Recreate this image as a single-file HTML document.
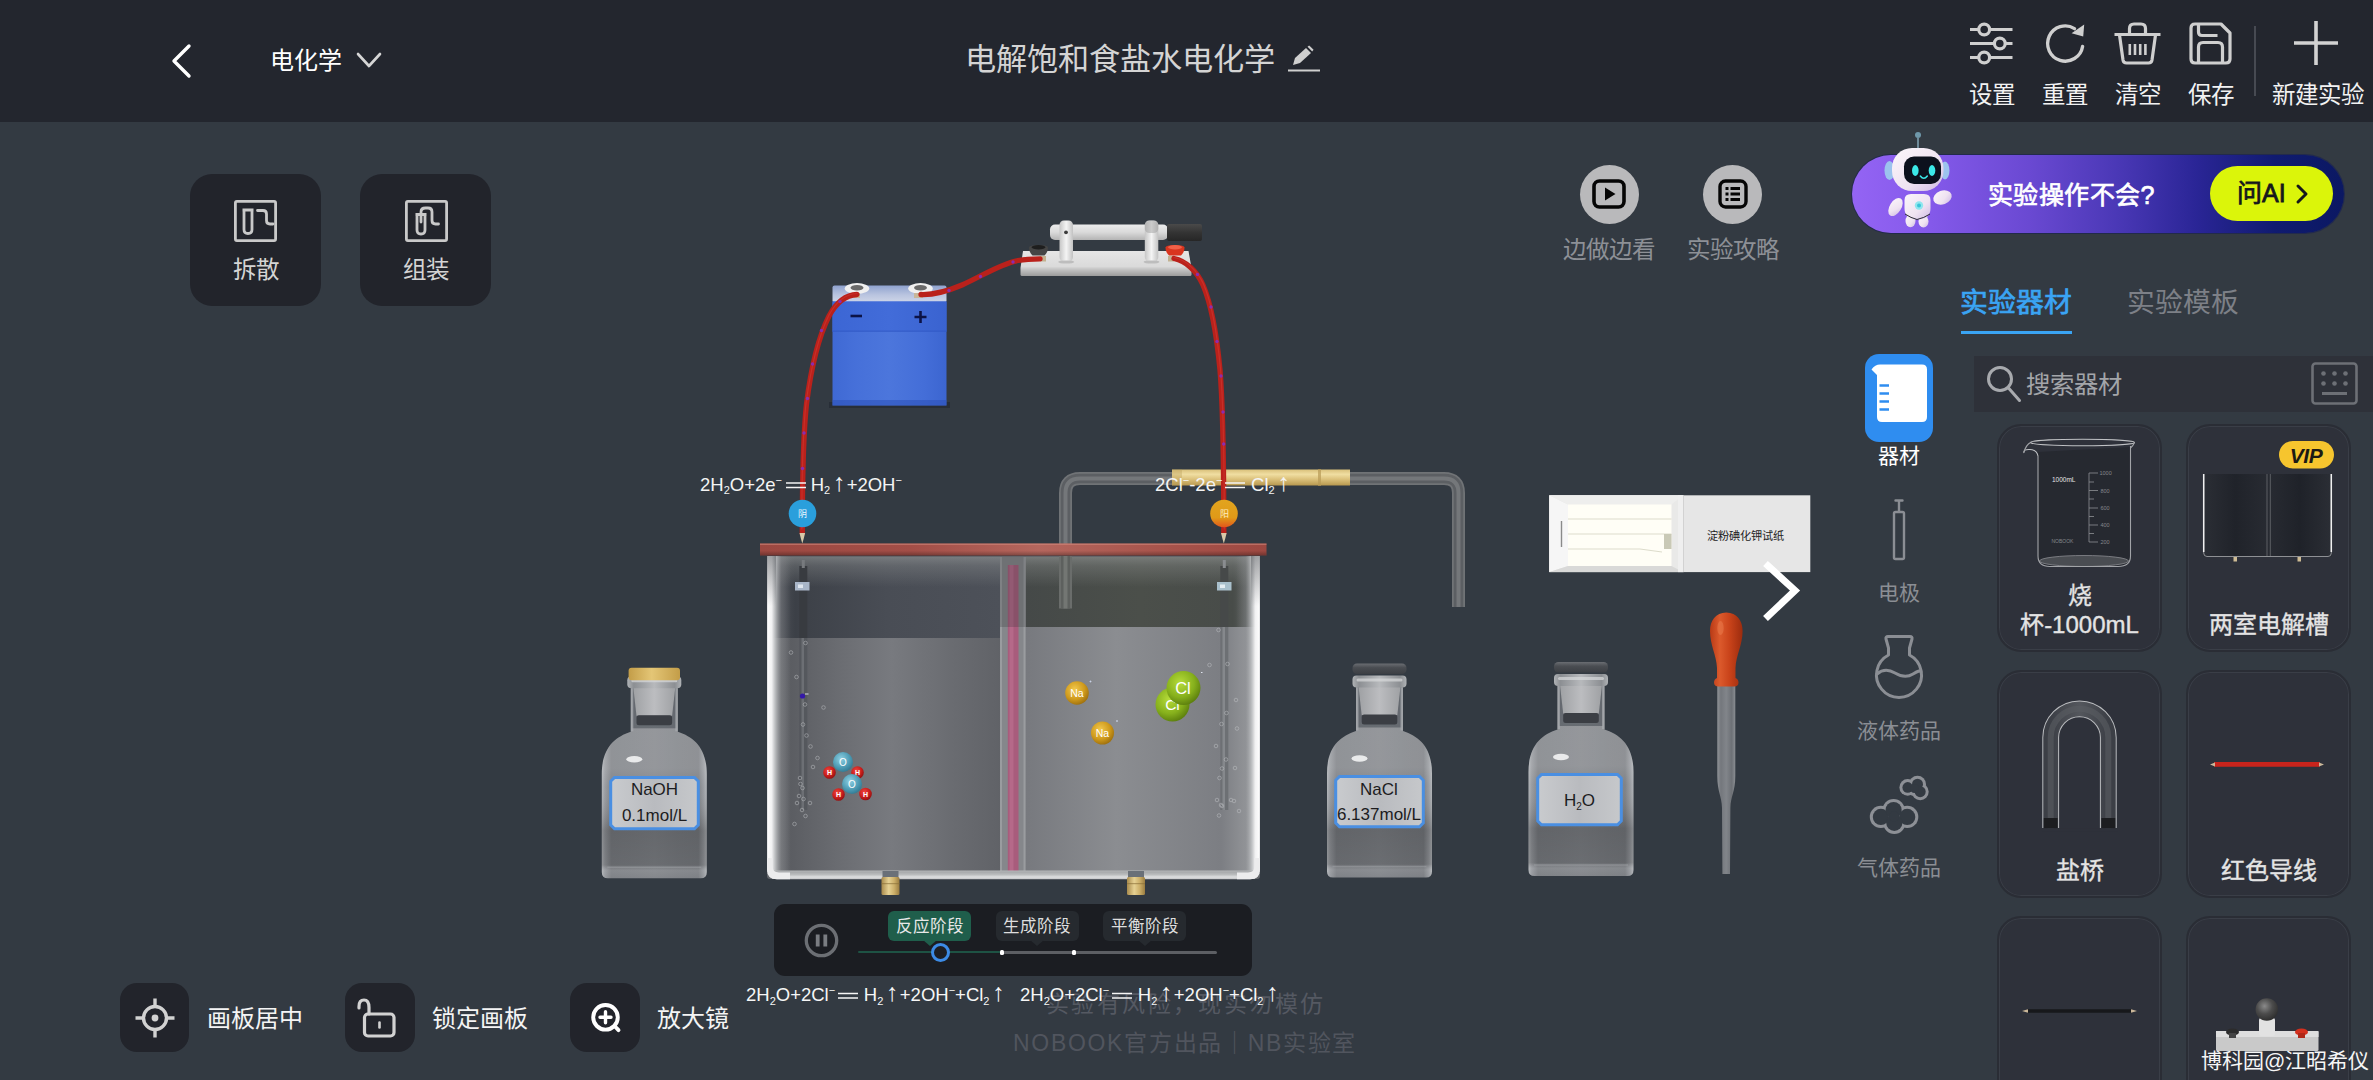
<!DOCTYPE html>
<html lang="zh-CN">
<head>
<meta charset="utf-8">
<title>电解饱和食盐水电化学</title>
<style>
*{box-sizing:border-box;margin:0;padding:0}
html,body{width:2373px;height:1080px;overflow:hidden;background:#333a42}
body{position:relative;font-family:"Liberation Sans",sans-serif;color:#fff}
.abs{position:absolute}
.hdr{position:absolute;left:0;top:0;width:2373px;height:122px;background:#23262e}
.t{position:absolute;white-space:nowrap;line-height:1}
.tb-l{position:absolute;top:83.500px;font-size:23.5px;color:#f2f2f2;white-space:nowrap;line-height:1;transform:translateX(-50%)}
.sq{position:absolute;background:#22242b;border-radius:22px}
.card{position:absolute;width:165px;height:228px;border-radius:24px;background:#2e313a;border:2px solid #2a2d35;box-shadow:0 0 0 1px #3a3e47 inset}
.card .lb{position:absolute;left:0;width:100%;text-align:center;font-size:24px;-webkit-text-stroke:.35px #e4e4e4;color:#e4e4e4;line-height:29px;white-space:nowrap}
.side-l{position:absolute;font-size:21px;color:#8b8e94;white-space:nowrap;line-height:1;transform:translateX(-50%)}
svg{position:absolute;overflow:visible}
sub,sup{font-size:60%;line-height:0}
</style>
</head>
<body>

<!-- ===== HEADER ===== -->
<div class="hdr"></div>
<svg style="left:170px;top:43px" width="24" height="36" viewBox="0 0 24 36"><path d="M19 3 L4 18 L19 33" fill="none" stroke="#fff" stroke-width="3.4" stroke-linecap="round" stroke-linejoin="round"/></svg>
<div class="t" style="left:270px;top:49px;font-size:24px;color:#fff">电化学</div>
<svg style="left:356px;top:52px" width="26" height="16" viewBox="0 0 26 16"><path d="M2 2 L13 14 L24 2" fill="none" stroke="#d6d6d6" stroke-width="2.6" stroke-linecap="round" stroke-linejoin="round"/></svg>
<div class="t" style="left:964.500px;top:44px;font-size:31.200px;color:#d4d4d4">电解饱和食盐水电化学</div>
<svg style="left:1287px;top:45px" width="34" height="28" viewBox="0 0 34 28"><path d="M1 25.5 H33" stroke="#cfcfcf" stroke-width="2"/><path d="M6 20 L8 13 L19 3 L24 8 L13 18 Z" fill="#cfcfcf"/><path d="M20.5 1.8 L22.2 0.4 L26.6 4.8 L25.2 6.4 Z" fill="#cfcfcf"/></svg>
<!-- toolbar placeholder -->
<!-- toolbar -->
<svg style="left:1970px;top:22px" width="43" height="43" viewBox="0 0 43 43" fill="none" stroke="#cfcfcf" stroke-width="3.2">
<path d="M0 7.5H8.5M20 7.5H42.5M0 21.5H24M35.5 21.5H42.5M0 35.5H8.5M20 35.5H42.5"/>
<circle cx="14.2" cy="7.5" r="5.4"/><circle cx="29.8" cy="21.5" r="5.4"/><circle cx="14.2" cy="35.5" r="5.4"/></svg>
<div class="tb-l" style="left:1991.5px">设置</div>
<svg style="left:2044px;top:22px" width="44" height="44" viewBox="0 0 44 44" fill="none" stroke="#cfcfcf" stroke-width="3.4">
<path d="M38.6 24.5 A17.6 17.6 0 1 1 30.5 6.6" stroke-linecap="round"/><path d="M40.2 2.6 L39.2 14.6 L27.6 11.2 Z" fill="#cfcfcf" stroke="none"/></svg>
<div class="tb-l" style="left:2064.5px">重置</div>
<svg style="left:2114px;top:22px" width="47" height="43" viewBox="0 0 47 43" fill="none" stroke="#cfcfcf" stroke-width="3.2" stroke-linejoin="round">
<path d="M0.5 12.5H46.5"/><path d="M15.5 12 V6.5 Q15.5 2 20 2 H27 Q31.5 2 31.5 6.5 V12"/>
<path d="M5.5 13 L9 38 Q9.5 41 12.5 41 H34.5 Q37.500 41 38 38 L41.5 13"/>
<path d="M15.8 22V33M21 22V33M26.200 22V33M31.400 22V33" stroke-width="2.6"/></svg>
<div class="tb-l" style="left:2137.5px">清空</div>
<svg style="left:2189px;top:22px" width="43" height="43" viewBox="0 0 43 43" fill="none" stroke="#cfcfcf" stroke-width="3.2" stroke-linejoin="round">
<path d="M6 2 H32 L41 11 V37 Q41 41 37 41 H6 Q2 41 2 37 V6 Q2 2 6 2 Z"/>
<path d="M9.500 2.500 V10 Q9.500 13.500 13 13.500 H28.500"/>
<path d="M9.500 40.500 V25 Q9.500 20.500 14 20.500 H29 Q33.500 20.500 33.500 25 V40.500"/></svg>
<div class="tb-l" style="left:2210.500px">保存</div>
<div class="abs" style="left:2254px;top:26px;width:2px;height:70px;background:#474a52"></div>
<svg style="left:2294px;top:21px" width="44" height="44" viewBox="0 0 44 44" stroke="#d2d2d2" stroke-width="3.600"><path d="M0 22H44M22 0V44"/></svg>
<div class="tb-l" style="left:2317.500px">新建实验</div>
<!-- ===== LEFT BUTTONS ===== -->
<div class="sq" style="left:190px;top:174px;width:131px;height:132px"></div>
<svg style="left:234px;top:200px" width="43" height="42" viewBox="0 0 43 42" fill="none" stroke="#c9c9c9" stroke-width="2.800" stroke-linejoin="round">
<rect x="1.400" y="1.400" width="40.200" height="39.200" rx="1.500"/>
<path d="M8.500 10 H19.500 M10 10 V29.500 Q10 33.500 14 33.500 Q18 33.500 18 29.500 V10"/>
<path d="M23.500 10.500 H29 Q32.500 10.500 32.500 14 V20.500 Q32.500 24 36 24 H39" stroke-linecap="round"/></svg>
<div class="t" style="left:255.500px;top:259px;font-size:23.500px;color:#d4d4d4;transform:translateX(-50%)">拆散</div>
<div class="sq" style="left:360px;top:174px;width:131px;height:132px"></div>
<svg style="left:405px;top:200px" width="43" height="42" viewBox="0 0 43 42" fill="none" stroke="#c9c9c9" stroke-width="2.800" stroke-linejoin="round">
<rect x="1.400" y="1.400" width="40.200" height="39.200" rx="1.500"/>
<path d="M10.500 14.500 H21.500 M12 14.500 V30 Q12 34 16 34 Q20 34 20 30 V14.500"/>
<path d="M16 22 V12 Q16 8 20.500 8 H23 Q27 8 27 12 V20.500 Q27 24 30.500 24 H33.500" stroke-linecap="round"/></svg>
<div class="t" style="left:425.500px;top:259px;font-size:23.500px;color:#d4d4d4;transform:translateX(-50%)">组装</div>
<!-- ===== SCENE ===== -->
<!-- ===== SCENE ===== -->
<svg style="left:0;top:0" width="2373" height="1080" viewBox="0 0 2373 1080" font-family="Liberation Sans, sans-serif">
<defs>
<linearGradient id="gBatTop" x1="0" y1="0" x2="0" y2="1"><stop offset="0" stop-color="#8fa2cf"/><stop offset=".55" stop-color="#b9c4df"/><stop offset="1" stop-color="#cfd6e8"/></linearGradient>
<linearGradient id="gBatF" x1="0" y1="0" x2="1" y2="0"><stop offset="0" stop-color="#3f69d4"/><stop offset=".2" stop-color="#4670d9"/><stop offset=".5" stop-color="#4c76dc"/><stop offset=".8" stop-color="#446ed8"/><stop offset="1" stop-color="#3c65d0"/></linearGradient>
<linearGradient id="gBatBand" x1="0" y1="0" x2="1" y2="0"><stop offset="0" stop-color="#3c66d4"/><stop offset=".5" stop-color="#426cd9"/><stop offset="1" stop-color="#3a63d0"/></linearGradient>
<linearGradient id="gSwBase" x1="0" y1="0" x2="0" y2="1"><stop offset="0" stop-color="#e6e6e6"/><stop offset=".62" stop-color="#dadada"/><stop offset=".72" stop-color="#c6c6c6"/><stop offset="1" stop-color="#9c9c9c"/></linearGradient>
<linearGradient id="gSwBar" x1="0" y1="0" x2="0" y2="1"><stop offset="0" stop-color="#ececec"/><stop offset=".5" stop-color="#dadada"/><stop offset="1" stop-color="#b4b4b4"/></linearGradient>
<linearGradient id="gSwPost" x1="0" y1="0" x2="1" y2="0"><stop offset="0" stop-color="#c6c6c6"/><stop offset=".5" stop-color="#f4f4f4"/><stop offset="1" stop-color="#c2c2c2"/></linearGradient>
<linearGradient id="gHandle" x1="0" y1="0" x2="0" y2="1"><stop offset="0" stop-color="#4a4a4a"/><stop offset=".5" stop-color="#343434"/><stop offset="1" stop-color="#262626"/></linearGradient>
<linearGradient id="gLid" x1="0" y1="0" x2="1" y2="0"><stop offset="0" stop-color="#9c4841"/><stop offset=".3" stop-color="#a34e47"/><stop offset=".55" stop-color="#b4665d"/><stop offset=".8" stop-color="#a7534b"/><stop offset="1" stop-color="#9d4841"/></linearGradient>
<linearGradient id="gLidV" x1="0" y1="0" x2="0" y2="1"><stop offset="0" stop-color="#000" stop-opacity="0"/><stop offset=".6" stop-color="#000" stop-opacity="0"/><stop offset="1" stop-color="#000" stop-opacity=".28"/></linearGradient>
<linearGradient id="gAirL" x1="0" y1="0" x2="1" y2="0"><stop offset="0" stop-color="#55585e"/><stop offset=".1" stop-color="#3c4047"/><stop offset=".5" stop-color="#494d55"/><stop offset="1" stop-color="#4d5159"/></linearGradient>
<linearGradient id="gLiqL" x1="0" y1="0" x2="1" y2="0"><stop offset="0" stop-color="#77797d"/><stop offset=".08" stop-color="#5b5d62"/><stop offset=".3" stop-color="#6b6d72"/><stop offset=".52" stop-color="#787a7f"/><stop offset=".8" stop-color="#696b70"/><stop offset="1" stop-color="#606267"/></linearGradient>
<linearGradient id="gAirR" x1="0" y1="0" x2="1" y2="0"><stop offset="0" stop-color="#454948"/><stop offset=".5" stop-color="#4b4f4a"/><stop offset=".9" stop-color="#484c49"/><stop offset="1" stop-color="#666968"/></linearGradient>
<linearGradient id="gLiqR" x1="0" y1="0" x2="1" y2="0"><stop offset="0" stop-color="#77797e"/><stop offset=".4" stop-color="#8b8d91"/><stop offset=".85" stop-color="#7c7e83"/><stop offset="1" stop-color="#9a9c9f"/></linearGradient>
<linearGradient id="gWallL" x1="0" y1="0" x2="1" y2="0"><stop offset="0" stop-color="#dcdddf"/><stop offset=".06" stop-color="#fbfbfb"/><stop offset=".2" stop-color="#f1f1f2"/><stop offset=".34" stop-color="#c4c6c8" stop-opacity=".9"/><stop offset=".6" stop-color="#909296" stop-opacity=".35"/><stop offset="1" stop-color="#8a8c90" stop-opacity="0"/></linearGradient>
<linearGradient id="gWallR" x1="1" y1="0" x2="0" y2="0"><stop offset="0" stop-color="#dcdddf"/><stop offset=".06" stop-color="#fbfbfb"/><stop offset=".2" stop-color="#f1f1f2"/><stop offset=".34" stop-color="#c4c6c8" stop-opacity=".9"/><stop offset=".6" stop-color="#909296" stop-opacity=".35"/><stop offset="1" stop-color="#8a8c90" stop-opacity="0"/></linearGradient>
<linearGradient id="gBot" x1="0" y1="0" x2="0" y2="1"><stop offset="0" stop-color="#c4c6c7"/><stop offset=".3" stop-color="#a8aaac"/><stop offset=".55" stop-color="#bbbdbe"/><stop offset=".78" stop-color="#dedfe0"/><stop offset="1" stop-color="#c2c3c5"/></linearGradient>
<linearGradient id="gBrass" x1="0" y1="0" x2="0" y2="1"><stop offset="0" stop-color="#d9c07a"/><stop offset=".3" stop-color="#f0dea2"/><stop offset=".6" stop-color="#dcc27c"/><stop offset="1" stop-color="#b8984f"/></linearGradient>
<linearGradient id="gBrassH" x1="0" y1="0" x2="1" y2="0"><stop offset="0" stop-color="#a88a4c"/><stop offset=".4" stop-color="#e6d193"/><stop offset=".7" stop-color="#cdb06a"/><stop offset="1" stop-color="#9a7c40"/></linearGradient>
<linearGradient id="gPipeH" x1="0" y1="0" x2="0" y2="1"><stop offset="0" stop-color="#6c6e70"/><stop offset=".3" stop-color="#8f9193"/><stop offset=".6" stop-color="#737577"/><stop offset="1" stop-color="#8a8c8e"/></linearGradient>
<radialGradient id="gO" cx=".4" cy=".35" r=".7"><stop offset="0" stop-color="#8fd0e2"/><stop offset=".6" stop-color="#4f9db6"/><stop offset="1" stop-color="#2f7790"/></radialGradient>
<radialGradient id="gH" cx=".4" cy=".35" r=".7"><stop offset="0" stop-color="#f0453e"/><stop offset=".6" stop-color="#c81d1b"/><stop offset="1" stop-color="#8c0f10"/></radialGradient>
<radialGradient id="gNa" cx=".4" cy=".35" r=".7"><stop offset="0" stop-color="#f2c94e"/><stop offset=".6" stop-color="#cf9a1c"/><stop offset="1" stop-color="#9a6c0c"/></radialGradient>
<radialGradient id="gCl" cx=".4" cy=".35" r=".7"><stop offset="0" stop-color="#b6dc3a"/><stop offset=".6" stop-color="#86b01c"/><stop offset="1" stop-color="#587a0c"/></radialGradient>
<linearGradient id="gAn" x1="0" y1="0" x2="0" y2="1"><stop offset="0" stop-color="#e2a41e"/><stop offset=".65" stop-color="#e09a18"/><stop offset="1" stop-color="#e2561c"/></linearGradient>
<linearGradient id="gTopSh" x1="0" y1="0" x2="0" y2="1"><stop offset="0" stop-color="#4a4d52" stop-opacity=".5"/><stop offset="1" stop-color="#4a4d52" stop-opacity="0"/></linearGradient>
<linearGradient id="gUnder" x1="0" y1="0" x2="0" y2="1"><stop offset="0" stop-color="#a4a7a6" stop-opacity=".5"/><stop offset=".3" stop-color="#9a9d9c" stop-opacity=".3"/><stop offset="1" stop-color="#9a9d9c" stop-opacity="0"/></linearGradient>
</defs>

<!-- grey gas pipe (behind lid) -->
<g fill="none">
<path d="M1065.500 548 V493 Q1065.500 478.500 1080 478.500 H1444 Q1458.500 478.500 1458.500 493 V607" stroke="#707376" stroke-width="13"/>
<path d="M1065.500 548 V493 Q1065.500 478.500 1080 478.500 H1444 Q1458.500 478.500 1458.500 493 V607" stroke="#5c5f63" stroke-width="9.500"/>
<path d="M1065.500 548 V493 Q1065.500 478.500 1080 478.500 H1444 Q1458.500 478.500 1458.500 493 V607" stroke="#74777a" stroke-width="4"/>
</g>
<!-- brass tube -->
<rect x="1172" y="469.500" width="178" height="16" fill="url(#gBrass)"/>
<rect x="1318" y="469" width="3" height="17" fill="#b89a55" opacity=".7"/>
<rect x="1172" y="469.500" width="10" height="16" fill="#b89a55" opacity=".35"/>

<!-- battery -->
<rect x="829" y="402" width="121" height="6" fill="#1f2430" opacity=".55"/>
<rect x="832.500" y="285.500" width="114" height="17" rx="2" fill="url(#gBatTop)"/>
<rect x="832.500" y="301.500" width="114" height="104" fill="url(#gBatF)"/>
<rect x="832.500" y="301.500" width="114" height="30" fill="url(#gBatBand)"/>
<rect x="832.500" y="330.500" width="114" height="1.500" fill="#3058c4" opacity=".6"/>
<rect x="832.500" y="400" width="114" height="5.500" fill="#2c50b8" opacity=".55"/>
<g>
<ellipse cx="857" cy="288.500" rx="12.300" ry="5.400" fill="#f0f0f0"/><ellipse cx="857" cy="287.800" rx="6.500" ry="2.800" fill="#6a6a6a"/>
<ellipse cx="920.500" cy="288.500" rx="12.300" ry="5.400" fill="#f0f0f0"/><ellipse cx="920.500" cy="287.800" rx="6.500" ry="2.800" fill="#6a6a6a"/>
<rect x="851" y="293" width="9" height="5" fill="#c8b79a"/><rect x="914" y="293" width="9" height="5" fill="#c8b79a"/>
</g>
<path d="M850.500 316H862" stroke="#0c1346" stroke-width="2.600"/>
<path d="M914.500 317H926.500M920.500 311V323" stroke="#0c1346" stroke-width="2.600"/>

<!-- switch -->
<path d="M1023 251 H1188.500 L1191.500 268 V274.500 Q1191.500 276 1190 276 H1022 Q1020.500 276 1020.500 274.500 V268 Z" fill="url(#gSwBase)"/>
<rect x="1050" y="224.500" width="118" height="15.500" rx="5" fill="url(#gSwBar)"/>
<rect x="1059.500" y="220.500" width="13.500" height="41" rx="4.500" fill="url(#gSwPost)"/>
<rect x="1144.800" y="220.500" width="13.500" height="41" rx="4.500" fill="url(#gSwPost)"/>
<rect x="1144.800" y="221" width="13.500" height="12" rx="4.500" fill="#9a9a9a" opacity=".45"/>
<ellipse cx="1066.200" cy="262" rx="8" ry="1.600" fill="#bdbdbd"/><ellipse cx="1151.500" cy="262" rx="8" ry="1.600" fill="#bdbdbd"/>
<circle cx="1066" cy="232.300" r="1.900" fill="#3c3c3c"/>
<rect x="1167" y="224" width="35" height="17" rx="2" fill="url(#gHandle)"/>
<path d="M1029 247.500 Q1029 245 1038.500 245 Q1048 245 1048 247.500 Q1048 252 1044.500 255.500 H1032.500 Q1029 252 1029 247.500 Z" fill="#454545"/>
<ellipse cx="1038.500" cy="247.300" rx="7" ry="2.200" fill="#1e1e1e"/>
<rect x="1040" y="256" width="6" height="5.500" fill="#c2b190"/>
<path d="M1165.500 247.500 Q1165.500 245 1175 245 Q1184.500 245 1184.500 247.500 Q1184.500 252 1181 255.500 H1169 Q1165.500 252 1165.500 247.500 Z" fill="#d9351f"/>
<ellipse cx="1175" cy="247.300" rx="7" ry="2.200" fill="#f06048"/>
<rect x="1168" y="256" width="6" height="5.500" fill="#c2b190"/>

<!-- wires -->
<g fill="none" stroke-linecap="round">
<path id="w1" d="M857 294.500 C846 295 836 303 829 316 C819 336 811 368 806.500 404 C803.500 432 802.300 470 802.300 533" stroke="#ba211b" stroke-width="5.300"/>
<path id="w2" d="M921 294.500 C936 295 948 291 962 285 C984 275 1000 264 1018 260.500 C1026 259 1032 258.800 1040 258.800" stroke="#ba211b" stroke-width="5.300"/>
<path id="w3" d="M1174 258.500 C1186 261 1197 271 1203 285 C1212 306 1217 338 1220 370 C1222.500 400 1223.800 450 1223.800 533" stroke="#ba211b" stroke-width="5.300"/>
<path d="M857 293.500 C846 294 836 302 829 315 C819 335 811 367 806 403 C803 431 801.800 469 801.800 529" stroke="#d8403a" stroke-width="1.200" opacity=".45"/>
<path d="M1174 257.500 C1186 260 1197 270 1203.500 284 C1212.500 305 1217.500 337 1220.500 369 C1223 399 1224.300 449 1224.300 529" stroke="#d8403a" stroke-width="1.200" opacity=".45"/>
</g>
<g fill="#8a2bb0"><circle cx="840" cy="301.500" r="1.700"/><circle cx="821.500" cy="330.500" r="1.700"/><circle cx="812.500" cy="364" r="1.700"/><circle cx="807.500" cy="398.500" r="1.700"/><circle cx="804" cy="433" r="1.700"/><circle cx="802.500" cy="468.500" r="1.700"/>
<circle cx="949" cy="290.500" r="1.700"/><circle cx="980.500" cy="276.500" r="1.700"/><circle cx="1013" cy="262" r="1.700"/>
<circle cx="1197.500" cy="274.500" r="1.700"/><circle cx="1211" cy="307" r="1.700"/><circle cx="1217" cy="341.500" r="1.700"/><circle cx="1221" cy="376" r="1.700"/><circle cx="1223" cy="412" r="1.700"/><circle cx="1223.700" cy="444" r="1.700"/></g>
<!-- wire tips -->
<path d="M799.500 533 H805.100 L803.600 539 L802.300 543.500 L801 539 Z" fill="#d9c9a8"/>
<path d="M1221 533 H1226.600 L1225.100 539 L1223.800 543.500 L1222.500 539 Z" fill="#d9c9a8"/>

<!-- TANK -->
<g id="tank">
<rect x="767" y="556" width="493" height="323" rx="3" fill="#63666b"/>
<!-- chambers -->
<rect x="772" y="557" width="230" height="82" fill="url(#gAirL)"/>
<rect x="772" y="638" width="230" height="233" fill="url(#gLiqL)"/>
<rect x="1024" y="557" width="232" height="71" fill="url(#gAirR)"/>
<rect x="1024" y="627" width="232" height="244" fill="url(#gLiqR)"/>
<!-- under-lid lighter strip -->
<rect x="772" y="557" width="484" height="30" fill="url(#gUnder)"/>
<!-- inner pipe -->
<rect x="1059" y="556" width="13" height="52.500" fill="#6a6d6b"/><rect x="1061" y="556" width="9" height="52.500" fill="#5d605e"/><rect x="1063.500" y="556" width="4" height="52.500" fill="#737673"/>
<!-- membrane -->
<rect x="1000" y="557" width="25.500" height="314" fill="#85878b"/>
<rect x="1000" y="557" width="2" height="314" fill="#9a9c9f"/><rect x="1023.500" y="557" width="2" height="314" fill="#9a9c9f"/>
<rect x="1007.800" y="565" width="10.700" height="306" fill="#a85c7c"/>
<rect x="1009.500" y="565" width="4" height="306" fill="#c07594" opacity=".55"/>
<rect x="1000" y="557" width="25.500" height="70" fill="#2a2d30" opacity=".24"/>
<!-- electrodes -->
<rect x="799.300" y="566" width="8" height="72" fill="#383b40"/><rect x="799.300" y="638" width="8" height="172" fill="#55585d"/><rect x="801.500" y="638" width="2.500" height="172" fill="#6c6f74"/>
<rect x="801.800" y="560" width="3" height="8" fill="#777a7e"/>
<rect x="795" y="582" width="14.500" height="8.500" fill="#a9b6c8"/><rect x="798" y="584.500" width="5" height="3.500" fill="#dfe6ee"/>
<rect x="1220.300" y="566" width="8" height="61" fill="#464949"/><rect x="1220.300" y="627" width="8" height="183" fill="#6d7074"/><rect x="1222.500" y="627" width="2.500" height="183" fill="#85888c"/>
<rect x="1222.800" y="560" width="3" height="8" fill="#8a8d90"/>
<rect x="1217" y="582" width="14.500" height="8.500" fill="#a9c0cc"/><rect x="1220" y="584.500" width="5" height="3.500" fill="#e4edf2"/>
<!-- glass walls -->
<rect x="767" y="556" width="24" height="316" fill="url(#gWallL)"/>
<rect x="1236" y="556" width="24" height="316" fill="url(#gWallR)"/>
<rect x="767" y="556" width="9" height="50" fill="url(#gTopSh)"/><rect x="1251" y="556" width="9" height="50" fill="url(#gTopSh)"/>
<path d="M767 870.400 H1260 V869 Q1260 879.300 1250 879.300 H777 Q767 879.300 767 869 Z" fill="url(#gBot)"/>
<path d="M767 858 V869 Q767 879.300 777 879.300 H790 V872.500 H779 Q772.500 872.500 772.500 866 V858 Z" fill="#ececed"/>
<path d="M1260 858 V869 Q1260 879.300 1250 879.300 H1237 V872.500 H1248 Q1254.500 872.500 1254.500 866 V858 Z" fill="#ececed"/>
</g>
<!-- taps -->
<g>
<rect x="882.500" y="871" width="16" height="7" fill="#6a7078"/><rect x="881.500" y="877" width="18" height="18" rx="1.500" fill="url(#gBrassH)"/><rect x="881.500" y="883" width="18" height="1.200" fill="#8a6f38" opacity=".6"/>
<rect x="1128" y="871" width="16" height="7" fill="#6a7078"/><rect x="1127" y="877" width="18" height="18" rx="1.500" fill="url(#gBrassH)"/><rect x="1127" y="883" width="18" height="1.200" fill="#8a6f38" opacity=".6"/>
</g>
<!-- lid -->
<rect x="760" y="543.500" width="506.500" height="12" fill="url(#gLid)"/>
<rect x="760" y="543.500" width="506.500" height="12" fill="url(#gLidV)"/>
<rect x="760" y="543.500" width="506.500" height="1.500" fill="#d58a7e" opacity=".55"/>

<!-- bubbles -->
<g fill="none" stroke="#c4c6c9" stroke-width=".9" opacity=".55">
<circle cx="805.500" cy="643" r="1.800"/><circle cx="791" cy="652.500" r="1.800"/><circle cx="796.500" cy="677" r="1.800"/><circle cx="805" cy="704.500" r="1.800"/><circle cx="823.500" cy="707.500" r="1.800"/>
<circle cx="803" cy="724.500" r="1.800"/><circle cx="806.500" cy="735.500" r="1.800"/><circle cx="810.500" cy="746.500" r="1.800"/><circle cx="817.500" cy="758" r="1.800"/><circle cx="813" cy="767" r="1.800"/>
<circle cx="800" cy="778" r="1.800"/><circle cx="802.500" cy="788" r="1.800"/><circle cx="799" cy="796" r="1.800"/><circle cx="803.500" cy="799" r="1.800"/><circle cx="797" cy="803" r="1.800"/><circle cx="810" cy="803" r="1.800"/>
<circle cx="802" cy="810" r="1.800"/><circle cx="805.500" cy="816" r="1.800"/><circle cx="794.500" cy="824" r="1.800"/><circle cx="800.500" cy="784" r="1.800"/>
<circle cx="1218.500" cy="630" r="1.800"/><circle cx="1209.500" cy="665" r="1.800"/><circle cx="1227.500" cy="664" r="1.800"/><circle cx="1236" cy="700" r="1.800"/><circle cx="1226.500" cy="713" r="1.800"/>
<circle cx="1221.500" cy="724" r="1.800"/><circle cx="1237" cy="728.500" r="1.800"/><circle cx="1216" cy="746" r="1.800"/><circle cx="1226" cy="759.500" r="1.800"/><circle cx="1222" cy="768.500" r="1.800"/>
<circle cx="1235" cy="768" r="1.800"/><circle cx="1219.500" cy="778" r="1.800"/><circle cx="1217" cy="800" r="1.800"/><circle cx="1222" cy="806" r="1.800"/><circle cx="1231" cy="800" r="1.800"/><circle cx="1234" cy="801" r="1.800"/>
<circle cx="1239" cy="811" r="1.800"/><circle cx="1219" cy="815.500" r="1.800"/><circle cx="1221" cy="805" r="1.800"/>
</g>
<circle cx="802.500" cy="696" r="2.600" fill="#3418a8"/><rect x="805" y="693.500" width="3.500" height="1" fill="#d9d9e6"/>

<!-- molecules -->
<g font-size="7" font-weight="bold" fill="#fff" text-anchor="middle">
<circle cx="857.500" cy="772.500" r="6.300" fill="url(#gH)"/><text x="857.500" y="775.200">H</text>
<circle cx="843" cy="762" r="10" fill="url(#gO)"/><text x="843" y="766" font-size="10" font-weight="normal">O</text>
<circle cx="829.500" cy="772.500" r="6.300" fill="url(#gH)"/><text x="829.500" y="775.200">H</text>
<circle cx="838.500" cy="794.500" r="6.300" fill="url(#gH)"/><text x="838.500" y="797.200">H</text>
<circle cx="865.500" cy="794" r="6.300" fill="url(#gH)"/><text x="865.500" y="796.700">H</text>
<circle cx="852" cy="784" r="10" fill="url(#gO)"/><text x="852" y="788" font-size="10" font-weight="normal">O</text>
</g>
<g fill="#fff" text-anchor="middle">
<circle cx="1077" cy="693" r="11.800" fill="url(#gNa)"/><text x="1077" y="697" font-size="10.500">Na</text>
<circle cx="1102.500" cy="733" r="11.500" fill="url(#gNa)"/><text x="1102.500" y="737" font-size="10.500">Na</text>
<circle cx="1172.500" cy="704.500" r="17" fill="url(#gCl)"/><text x="1172.500" y="710" font-size="15.500">Cl</text>
<circle cx="1183.500" cy="688" r="17" fill="url(#gCl)"/><text x="1183" y="694" font-size="16.500">Cl</text>
<path d="M1090.500 680.500v2M1089.500 681.500h2M1117 720v2M1116 721h2" stroke="#cfd8ee" stroke-width=".7"/>
<rect x="1201" y="672" width="1.500" height="1" fill="#dfe3ee"/>
</g>

<!-- electrode markers -->
<circle cx="802.500" cy="513.500" r="13.800" fill="#2a9fdc"/>
<text x="802.500" y="516.800" font-size="9" fill="#e8f6ff" text-anchor="middle">阴</text>
<circle cx="1224" cy="513.500" r="13.800" fill="url(#gAn)"/>
<text x="1224" y="516.800" font-size="9" fill="#ffeec4" text-anchor="middle">阳</text>
</svg>
<!-- ===== SCENE 2: bottles, dropper, box, equations ===== -->
<svg style="left:0;top:0" width="2373" height="1080" viewBox="0 0 2373 1080" font-family="Liberation Sans, sans-serif">
<defs>
<linearGradient id="bH" x1="0" y1="0" x2="1" y2="0"><stop offset="0" stop-color="#aeb1b5"/><stop offset=".03" stop-color="#94979c"/><stop offset=".09" stop-color="#7a7d82"/><stop offset=".3" stop-color="#7c7f84"/><stop offset=".5" stop-color="#7f8287"/><stop offset=".75" stop-color="#7a7d82"/><stop offset=".92" stop-color="#787b80"/><stop offset=".97" stop-color="#94979c"/><stop offset="1" stop-color="#aeb1b5"/></linearGradient>
<linearGradient id="bV" x1="0" y1="0" x2="0" y2="1"><stop offset="0" stop-color="#fff" stop-opacity=".12"/><stop offset=".22" stop-color="#fff" stop-opacity=".17"/><stop offset=".42" stop-color="#fff" stop-opacity=".17"/><stop offset=".52" stop-color="#fff" stop-opacity=".06"/><stop offset=".75" stop-color="#000" stop-opacity=".2"/><stop offset=".93" stop-color="#000" stop-opacity=".16"/><stop offset=".96" stop-color="#fff" stop-opacity=".1"/><stop offset="1" stop-color="#fff" stop-opacity=".04"/></linearGradient>
<linearGradient id="bNeck" x1="0" y1="0" x2="1" y2="0"><stop offset="0" stop-color="#b0b3b6"/><stop offset=".12" stop-color="#8c8f93"/><stop offset=".5" stop-color="#b7b9bc"/><stop offset=".88" stop-color="#8c8f93"/><stop offset="1" stop-color="#b0b3b6"/></linearGradient>
<linearGradient id="bFrost" x1="0" y1="0" x2="1" y2="0"><stop offset="0" stop-color="#9fa1a4"/><stop offset=".5" stop-color="#bcbdc0"/><stop offset="1" stop-color="#9fa1a4"/></linearGradient>
<linearGradient id="bCork" x1="0" y1="0" x2="1" y2="0"><stop offset="0" stop-color="#c39d48"/><stop offset=".45" stop-color="#e4c676"/><stop offset="1" stop-color="#c39d48"/></linearGradient>
<linearGradient id="bCap" x1="0" y1="0" x2="0" y2="1"><stop offset="0" stop-color="#6a6d72"/><stop offset=".4" stop-color="#4a4d52"/><stop offset="1" stop-color="#3c3f44"/></linearGradient>
<linearGradient id="lblG" x1="0" y1="0" x2="1" y2="0"><stop offset="0" stop-color="#c9cbce"/><stop offset=".5" stop-color="#b9bbbf"/><stop offset="1" stop-color="#c6c8cb"/></linearGradient>
<linearGradient id="dBulb" x1="0" y1="0" x2="1" y2="0"><stop offset="0" stop-color="#b83a16"/><stop offset=".3" stop-color="#dc5a2c"/><stop offset=".6" stop-color="#c9431a"/><stop offset="1" stop-color="#9c2c0e"/></linearGradient>
<linearGradient id="dGlass" x1="0" y1="0" x2="1" y2="0"><stop offset="0" stop-color="#9a9da1"/><stop offset=".2" stop-color="#7b7e83"/><stop offset=".5" stop-color="#8a8d92"/><stop offset=".8" stop-color="#74777c"/><stop offset="1" stop-color="#94979b"/></linearGradient>

</defs>

<!-- NaOH -->
<g transform="translate(654.300 878.300)"><g>
<path d="M-52.500 -6 Q-52.500 0 -46.500 0 H46.500 Q52.500 0 52.500 -6 V-104 C52.500 -130 40 -141 23.500 -146.500 V-190 H-23.500 V-146.500 C-40 -141 -52.500 -130 -52.500 -104 Z" fill="url(#bH)"/>
<path d="M-52.500 -6 Q-52.500 0 -46.500 0 H46.500 Q52.500 0 52.500 -6 V-104 C52.500 -130 40 -141 23.500 -146.500 V-190 H-23.500 V-146.500 C-40 -141 -52.500 -130 -52.500 -104 Z" fill="url(#bV)"/>
<rect x="-22" y="-190" width="44" height="40" fill="#333a42" opacity=".45"/><rect x="-23.500" y="-191" width="2.500" height="44" fill="#a9acb0" opacity=".7"/><rect x="21" y="-191" width="2.500" height="44" fill="#a9acb0" opacity=".7"/>
<path d="M-21 -191 H21 L17.800 -162.500 H-17.800 Z" fill="url(#bFrost)"/>
<rect x="-17.800" y="-163" width="35.600" height="10" rx="2.500" fill="#3b3e44"/>
<rect x="-27" y="-202" width="54" height="12" rx="4" fill="url(#bNeck)"/>
<rect x="-23" y="-199" width="46" height="3" rx="1.500" fill="#d9dadc" opacity=".7"/>
<ellipse cx="-20" cy="-119" rx="8" ry="3.200" fill="#fff" opacity=".8"/>
<path d="M-47 -11 H47" stroke="#a4a7ab" stroke-width="1.500" opacity=".45"/>
</g>
<rect x="-25.700" y="-210.500" width="51.400" height="12.500" rx="3" fill="url(#bCork)"/></g>
<path d="M614.500 777.500 H694.500 L698.300 781.300 V825 L694.500 828.800 H614.500 L610.700 825 V781.300 Z" fill="url(#lblG)" stroke="#4a8fe2" stroke-width="3"/>
<text x="654.500" y="795" font-size="17" fill="#1c1c1e" text-anchor="middle">NaOH</text>
<text x="654.500" y="821" font-size="17" fill="#1c1c1e" text-anchor="middle">0.1mol/L</text>
<!-- NaCl -->
<g transform="translate(1379.500 877.500)"><g>
<path d="M-52.500 -6 Q-52.500 0 -46.500 0 H46.500 Q52.500 0 52.500 -6 V-104 C52.500 -130 40 -141 23.500 -146.500 V-190 H-23.500 V-146.500 C-40 -141 -52.500 -130 -52.500 -104 Z" fill="url(#bH)"/>
<path d="M-52.500 -6 Q-52.500 0 -46.500 0 H46.500 Q52.500 0 52.500 -6 V-104 C52.500 -130 40 -141 23.500 -146.500 V-190 H-23.500 V-146.500 C-40 -141 -52.500 -130 -52.500 -104 Z" fill="url(#bV)"/>
<rect x="-22" y="-190" width="44" height="40" fill="#333a42" opacity=".45"/><rect x="-23.500" y="-191" width="2.500" height="44" fill="#a9acb0" opacity=".7"/><rect x="21" y="-191" width="2.500" height="44" fill="#a9acb0" opacity=".7"/>
<path d="M-21 -191 H21 L17.800 -162.500 H-17.800 Z" fill="url(#bFrost)"/>
<rect x="-17.800" y="-163" width="35.600" height="10" rx="2.500" fill="#3b3e44"/>
<rect x="-27" y="-202" width="54" height="12" rx="4" fill="url(#bNeck)"/>
<rect x="-23" y="-199" width="46" height="3" rx="1.500" fill="#d9dadc" opacity=".7"/>
<ellipse cx="-20" cy="-119" rx="8" ry="3.200" fill="#fff" opacity=".8"/>
<path d="M-47 -11 H47" stroke="#a4a7ab" stroke-width="1.500" opacity=".45"/>
</g>
<rect x="-27" y="-214" width="54" height="10.500" rx="4.500" fill="url(#bCap)"/></g>
<path d="M1339.500 776.500 H1419.500 L1423.300 780.300 V823 L1419.500 826.800 H1339.500 L1335.700 823 V780.300 Z" fill="url(#lblG)" stroke="#4a8fe2" stroke-width="3"/>
<text x="1379" y="794.500" font-size="17" fill="#1c1c1e" text-anchor="middle">NaCl</text>
<text x="1379" y="820" font-size="17" fill="#1c1c1e" text-anchor="middle">6.137mol/L</text>
<!-- H2O -->
<g transform="translate(1581 876)"><g>
<path d="M-52.500 -6 Q-52.500 0 -46.500 0 H46.500 Q52.500 0 52.500 -6 V-104 C52.500 -130 40 -141 23.500 -146.500 V-190 H-23.500 V-146.500 C-40 -141 -52.500 -130 -52.500 -104 Z" fill="url(#bH)"/>
<path d="M-52.500 -6 Q-52.500 0 -46.500 0 H46.500 Q52.500 0 52.500 -6 V-104 C52.500 -130 40 -141 23.500 -146.500 V-190 H-23.500 V-146.500 C-40 -141 -52.500 -130 -52.500 -104 Z" fill="url(#bV)"/>
<rect x="-22" y="-190" width="44" height="40" fill="#333a42" opacity=".45"/><rect x="-23.500" y="-191" width="2.500" height="44" fill="#a9acb0" opacity=".7"/><rect x="21" y="-191" width="2.500" height="44" fill="#a9acb0" opacity=".7"/>
<path d="M-21 -191 H21 L17.800 -162.500 H-17.800 Z" fill="url(#bFrost)"/>
<rect x="-17.800" y="-163" width="35.600" height="10" rx="2.500" fill="#3b3e44"/>
<rect x="-27" y="-202" width="54" height="12" rx="4" fill="url(#bNeck)"/>
<rect x="-23" y="-199" width="46" height="3" rx="1.500" fill="#d9dadc" opacity=".7"/>
<ellipse cx="-20" cy="-119" rx="8" ry="3.200" fill="#fff" opacity=".8"/>
<path d="M-47 -11 H47" stroke="#a4a7ab" stroke-width="1.500" opacity=".45"/>
</g>
<rect x="-27" y="-214" width="54" height="10.500" rx="4.500" fill="url(#bCap)"/></g>
<path d="M1541.500 774.500 H1617.500 L1621.300 778.300 V821 L1617.500 824.800 H1541.500 L1537.700 821 V778.300 Z" fill="url(#lblG)" stroke="#4a8fe2" stroke-width="3"/>
<text x="1579.500" y="806" font-size="17" fill="#1c1c1e" text-anchor="middle">H<tspan font-size="10" dy="3.500">2</tspan><tspan dy="-3.500">O</tspan></text>

<!-- dropper -->
<path d="M1717.300 686 H1735.300 V776 C1735.300 792 1730.600 796 1730.400 808 L1730 874 H1722.400 L1722 808 C1721.800 796 1717.300 792 1717.300 776 Z" fill="url(#dGlass)" opacity=".9"/>
<path d="M1726.300 612.600 C1737 612.600 1742.600 621 1742.600 631 C1742.600 645 1736 655 1735.500 668 V678 Q1738.500 679 1738.500 682.500 Q1738.500 686.500 1734 686.500 H1718.600 Q1714 686.500 1714 682.500 Q1714 679 1717 678 V668 C1716.500 655 1710 645 1710 631 C1710 621 1715.600 612.600 1726.300 612.600 Z" fill="url(#dBulb)"/>
<ellipse cx="1720.500" cy="628" rx="3.200" ry="7" fill="#f08a5a" opacity=".4"/>

<!-- test paper box -->
<rect x="1549.300" y="495.300" width="261" height="76.800" fill="#e6e6e6"/>
<rect x="1549.300" y="495.300" width="134" height="76.800" fill="#e9e9e8"/>
<path d="M1549.300 495.300 L1568 504.400 V566 L1549.300 572.100 Z" fill="#f6f6f6"/>
<path d="M1549.300 495.300 H1683 L1671.500 504.400 H1568 Z" fill="#eeeeed"/>
<path d="M1549.300 572.100 H1683 L1671.500 566 H1568 Z" fill="#d9d9d8"/>
<rect x="1568" y="504.400" width="103.500" height="61.600" fill="#fffef6"/>
<path d="M1568 519H1671.500M1568 534H1671.500M1568 549 H1640 L1662 552" stroke="#dddccb" stroke-width="1.200" fill="none"/>
<rect x="1664" y="534" width="7.500" height="15" fill="#c9c9b6"/>
<path d="M1561.500 521V547" stroke="#8a8a8a" stroke-width="1.400"/>
<rect x="1678" y="495.300" width="5" height="76.800" fill="#efefef"/>
<rect x="1683" y="495.300" width="1" height="76.800" fill="#d2d2d2"/>
<text x="1745" y="539.700" font-size="11.200" fill="#222" text-anchor="middle">淀粉碘化钾试纸</text>
<!-- chevron -->
<path d="M1765.500 563.500 L1795 590.500 L1765.500 618.500" fill="none" stroke="#fff" stroke-width="7" stroke-linejoin="miter"/>

<!-- equations -->
<g fill="#f4f4f4" font-size="18.500">
<text x="700" y="490.500">2H<tspan font-size="11" dy="3.500">2</tspan><tspan dy="-3.500">O+2e</tspan><tspan font-size="11" dy="-7">−</tspan><tspan dy="7" dx="23.500"> H</tspan><tspan font-size="11" dy="3.500">2</tspan><tspan dy="-3.500" dx="2.500" font-size="25">↑</tspan><tspan dx="1.500">+2OH</tspan><tspan font-size="11" dy="-7">−</tspan></text>
<path d="M786 483H806M786 487.500H806" stroke="#f4f4f4" stroke-width="1.300"/>
<text x="1155" y="490.500">2Cl<tspan font-size="11" dy="-7">−</tspan><tspan dy="7">-2e</tspan><tspan font-size="11" dy="-7">−</tspan><tspan dy="7" dx="23.500"> Cl</tspan><tspan font-size="11" dy="3.500">2</tspan><tspan dy="-3.500" dx="2.500" font-size="25">↑</tspan></text>
<path d="M1225 483H1245M1225 487.500H1245" stroke="#f4f4f4" stroke-width="1.300"/>
</g>
</svg>

<!-- ===== RIGHT PANEL ===== -->
<!-- watch / guide buttons -->
<div class="abs" style="left:1579.500px;top:164.500px;width:59px;height:59px;border-radius:50%;background:#b9b9bb"></div>
<svg style="left:1592px;top:179px" width="34" height="30" viewBox="0 0 34 30"><rect x="2" y="2" width="30" height="26" rx="5.500" fill="none" stroke="#050505" stroke-width="3.600"/><path d="M13 8.500 L23.500 15 L13 21.500 Z" fill="#050505"/></svg>
<div class="t" style="left:1609px;top:239px;font-size:23.500px;color:#8d9096;transform:translateX(-50%)">边做边看</div>
<div class="abs" style="left:1703px;top:164.500px;width:59px;height:59px;border-radius:50%;background:#b9b9bb"></div>
<svg style="left:1718px;top:179px" width="30" height="30" viewBox="0 0 30 30"><rect x="2" y="2" width="26" height="26" rx="5.500" fill="none" stroke="#050505" stroke-width="3.400"/><path d="M12.500 9.500H22M12.500 15H22M12.500 20.500H22" stroke="#050505" stroke-width="3"/><path d="M7.500 9.500H10.500M7.500 15H10.500M7.500 20.500H10.500" stroke="#050505" stroke-width="3"/></svg>
<div class="t" style="left:1733px;top:239px;font-size:23.500px;color:#8d9096;transform:translateX(-50%)">实验攻略</div>
<!-- AI banner -->
<div class="abs" style="left:1852px;top:154.500px;width:492px;height:78px;border-radius:39px;background:linear-gradient(90deg,#9464f4 0%,#8459ea 16%,#6a49d2 36%,#4a38b6 54%,#2a2596 70%,#101b70 86%,#0b1862 100%);box-shadow:0 0 0 1px rgba(24,32,84,.6)"></div>
<div class="t" style="left:1988px;top:182.500px;font-size:25px;-webkit-text-stroke:.7px #fff;color:#fff;letter-spacing:.4px">实验操作不会?</div>
<div class="abs" style="left:2210px;top:166px;width:123px;height:55px;border-radius:28px;background:#dbf50a"></div>
<div class="t" style="left:2237px;top:181px;font-size:25px;-webkit-text-stroke:.8px #16181c;color:#16181c">问AI</div>
<svg style="left:2296px;top:184px" width="12" height="20" viewBox="0 0 12 20"><path d="M2 2 L10 10 L2 18" fill="none" stroke="#16181c" stroke-width="3" stroke-linecap="round" stroke-linejoin="round"/></svg>
<div id="robot"></div>
<!-- tabs -->
<div class="t" style="left:1960px;top:288.500px;font-size:27.800px;-webkit-text-stroke:.7px #3aa4f4;color:#3aa4f4">实验器材</div>
<div class="abs" style="left:1961px;top:330.500px;width:111px;height:3.500px;background:#3aa4f4"></div>
<div class="t" style="left:2127px;top:288.500px;font-size:27.800px;color:#7d8087">实验模板</div>
<!-- side categories -->
<div class="abs" style="left:1865px;top:354px;width:68px;height:88px;border-radius:14px;background:#2f8df0"></div>
<svg style="left:1868px;top:362px" width="62" height="64" viewBox="0 0 62 64"><path d="M3.500 7.500 Q7 2.500 12 2.500 H54 Q59 2.500 59 7.500 V55 Q59 60 54 60 H14 Q9 60 9 55 V13 Z" fill="#fff"/><path d="M11.500 23.500H21M11.500 31.500H21M11.500 39.500H21M11.500 47.500H21" stroke="#2f8df0" stroke-width="2.600"/></svg>
<div class="side-l" style="left:1898.500px;top:445px;color:#fff">器材</div>
<svg style="left:1890px;top:498px" width="18" height="64" viewBox="0 0 18 64" fill="none" stroke="#8b8e94" stroke-width="2.400"><path d="M5.500 2.500H12.500M9 2.500V13" stroke-linecap="round"/><rect x="4" y="14" width="10" height="47" rx="1.500"/></svg>
<div class="side-l" style="left:1898.500px;top:582px">电极</div>
<svg style="left:1873px;top:634px" width="52" height="66" viewBox="0 0 52 66" fill="none" stroke="#8b8e94" stroke-width="3" stroke-linejoin="round" stroke-linecap="round"><path d="M15 2.500 H37 Q39.500 2.500 39 5 L36.500 14 V21 A22.500 22.500 0 1 1 15.500 21 V14 L13 5 Q12.500 2.500 15 2.500 Z"/><path d="M4 40 Q12 33 22 39 T40 40 T48 38"/></svg>
<div class="side-l" style="left:1898.500px;top:720px">液体药品</div>
<svg style="left:0;top:0" width="2373" height="1080" viewBox="0 0 2373 1080"><circle cx="1907.7" cy="787.4" r="8.3" fill="#8d9096"/><circle cx="1917.5" cy="784.2" r="8.5" fill="#8d9096"/><circle cx="1920.2" cy="791.7" r="8.5" fill="#8d9096"/><circle cx="1914.5" cy="788.5" r="7.5" fill="#8d9096"/><circle cx="1907.7" cy="787.4" r="5.3" fill="#333a42"/><circle cx="1917.5" cy="784.2" r="5.5" fill="#333a42"/><circle cx="1920.2" cy="791.7" r="5.5" fill="#333a42"/><circle cx="1914.5" cy="788.5" r="4.5" fill="#333a42"/><circle cx="1880.9" cy="816.9" r="11.1" fill="#8d9096"/><circle cx="1893.6" cy="810.1" r="11.1" fill="#8d9096"/><circle cx="1907.2" cy="816.9" r="11.1" fill="#8d9096"/><circle cx="1894.3" cy="822.8" r="11.1" fill="#8d9096"/><circle cx="1880.9" cy="816.9" r="8.1" fill="#333a42"/><circle cx="1893.6" cy="810.1" r="8.1" fill="#333a42"/><circle cx="1907.2" cy="816.9" r="8.1" fill="#333a42"/><circle cx="1894.3" cy="822.8" r="8.1" fill="#333a42"/><circle cx="1894" cy="816.5" r="5" fill="#333a42"/></svg>
<div class="side-l" style="left:1898.500px;top:857px">气体药品</div>
<!-- search -->
<div class="abs" style="left:1974px;top:356px;width:399px;height:56px;background:#2e3139"></div>
<svg style="left:1986px;top:365px" width="36" height="38" viewBox="0 0 36 38" fill="none" stroke="#a8aaae" stroke-width="3" stroke-linecap="round"><circle cx="14" cy="14" r="11.500"/><path d="M22.500 23 L33.500 35.500"/></svg>
<div class="t" style="left:2026px;top:372.500px;font-size:24.300px;color:#a3a5a9">搜索器材</div>
<svg style="left:2311px;top:362px" width="47" height="43" viewBox="0 0 47 43" fill="none" stroke="#6d7076" stroke-width="2.600"><rect x="1.500" y="1.500" width="44" height="40" rx="3"/><path d="M11 31.500H36" stroke-width="3"/><g fill="#6d7076" stroke="none"><circle cx="12.500" cy="11.500" r="2.300"/><circle cx="23.500" cy="11.500" r="2.300"/><circle cx="34.500" cy="11.500" r="2.300"/><circle cx="12.500" cy="21.500" r="2.300"/><circle cx="23.500" cy="21.500" r="2.300"/><circle cx="34.500" cy="21.500" r="2.300"/></g></svg>
<!-- cards -->
<div class="card" style="left:1997px;top:424px"><div class="lb" style="top:154.500px">烧<br>杯-1000mL</div></div>
<div class="card" style="left:2186px;top:424px"><div class="lb" style="top:183.500px">两室电解槽</div></div>
<div class="card" style="left:1997px;top:670px"><div class="lb" style="top:183.500px">盐桥</div></div>
<div class="card" style="left:2186px;top:670px"><div class="lb" style="top:183.500px">红色导线</div></div>
<div class="card" style="left:1997px;top:916px"></div>
<div class="card" style="left:2186px;top:916px"></div>
<div id="cardart"></div>

<!-- ===== BOTTOM ===== -->
<div class="sq" style="left:120px;top:983px;width:69px;height:69px;border-radius:17px"></div>
<svg style="left:135px;top:998px" width="40" height="40" viewBox="0 0 40 40" fill="none" stroke="#d2d2d2" stroke-width="3.400">
<circle cx="20" cy="20" r="11.500"/><circle cx="20" cy="20" r="3.400" fill="#d2d2d2" stroke="none"/><path d="M20 0.500V8M20 32V39.500M0.500 20H8M32 20H39.500"/></svg>
<div class="t" style="left:207px;top:1006.500px;font-size:24px;color:#f4f4f4">画板居中</div>
<div class="sq" style="left:345px;top:983px;width:70px;height:69px;border-radius:17px"></div>
<svg style="left:356px;top:998px" width="42" height="40" viewBox="0 0 42 40" fill="none" stroke="#d2d2d2" stroke-width="3.200" stroke-linejoin="round" stroke-linecap="round">
<rect x="8.500" y="16" width="29.500" height="22" rx="3.500"/><path d="M13 16 V9.500 Q13 2 8 2 Q3 2 3 8.500 V10"/><path d="M23.500 24.500V29.500" stroke-width="2.600"/></svg>
<div class="t" style="left:432px;top:1006.500px;font-size:24px;color:#f4f4f4">锁定画板</div>
<div class="sq" style="left:570px;top:983px;width:70px;height:69px;border-radius:17px"></div>
<svg style="left:590px;top:1002px" width="32" height="32" viewBox="0 0 32 32" fill="none" stroke="#fff" stroke-width="3.900" stroke-linecap="round">
<circle cx="15.500" cy="15.300" r="12.300"/><path d="M10 15.300H21M15.500 9.800V20.800" stroke-width="3.400"/><path d="M25.500 25 L28.500 28.200" /></svg>
<div class="t" style="left:657px;top:1006.500px;font-size:24px;color:#f4f4f4">放大镜</div>
<div id="playbar"></div>
<!-- ===== PLAYBAR ===== -->
<div class="abs" style="left:774px;top:904px;width:478px;height:72px;border-radius:11px;background:#1b1d22"></div>
<svg style="left:804px;top:923px" width="35" height="35" viewBox="0 0 35 35"><circle cx="17.500" cy="17.500" r="15.200" fill="none" stroke="#6c6f74" stroke-width="3.300"/><path d="M13.700 11.500V23.500M21.300 11.500V23.500" stroke="#7a7d82" stroke-width="3.800"/></svg>
<div class="abs" style="left:888px;top:911px;width:83px;height:29.500px;border-radius:6px;background:#1f5e4b"></div>
<svg style="left:923px;top:940px" width="14" height="6" viewBox="0 0 14 6"><path d="M0 0H14L7 6Z" fill="#1f5e4b"/></svg>
<div class="t" style="left:929.500px;top:917.500px;font-size:16.500px;color:#e8e8e8;transform:translateX(-50%)">反应阶段</div>
<div class="abs" style="left:995.500px;top:911px;width:83px;height:29.500px;border-radius:6px;background:#262a2f"></div>
<svg style="left:1030px;top:940px" width="14" height="6" viewBox="0 0 14 6"><path d="M0 0H14L7 6Z" fill="#262a2f"/></svg>
<div class="t" style="left:1037px;top:917.500px;font-size:16.500px;color:#dedede;transform:translateX(-50%)">生成阶段</div>
<div class="abs" style="left:1103px;top:911px;width:83px;height:29.500px;border-radius:6px;background:#262a2f"></div>
<svg style="left:1138px;top:940px" width="14" height="6" viewBox="0 0 14 6"><path d="M0 0H14L7 6Z" fill="#262a2f"/></svg>
<div class="t" style="left:1144.500px;top:917.500px;font-size:16.500px;color:#dedede;transform:translateX(-50%)">平衡阶段</div>
<div class="abs" style="left:858px;top:950.500px;width:143px;height:2.800px;border-radius:1.500px;background:#1e5344"></div>
<div class="abs" style="left:1001px;top:950.500px;width:216px;height:3px;border-radius:1.500px;background:#5d5f64"></div>
<div class="abs" style="left:1000px;top:949.500px;width:3.500px;height:5.500px;border-radius:1.500px;background:#fff"></div>
<div class="abs" style="left:1072px;top:949.500px;width:3.500px;height:5.500px;border-radius:1.500px;background:#fff"></div>
<div class="abs" style="left:930.500px;top:942.500px;width:19px;height:19px;border-radius:50%;background:#1d1f24;border:3px solid #3c8be6"></div>
<!-- watermark text -->
<div class="t" style="left:1046px;top:993px;font-size:23px;color:#555962;letter-spacing:2.400px">实验有风险，现实勿模仿</div>
<div class="t" style="left:1013px;top:1031.500px;font-size:23px;color:#51555e;letter-spacing:1.700px">NOBOOK官方出品｜NB实验室</div>
<!-- bottom equations -->
<svg style="left:0;top:0" width="2373" height="1080" viewBox="0 0 2373 1080" font-family="Liberation Sans, sans-serif">
<g fill="#f6f6f6" font-size="18.500">
<text x="746" y="1001">2H<tspan font-size="11" dy="3.500">2</tspan><tspan dy="-3.500">O+2Cl</tspan><tspan font-size="11" dy="-7">−</tspan><tspan dy="7" dx="23.500"> H</tspan><tspan font-size="11" dy="3.500">2</tspan><tspan dy="-3.500" dx="2.500" font-size="25">↑</tspan><tspan dx="1.500">+2OH</tspan><tspan font-size="11" dy="-7">−</tspan><tspan dy="7">+Cl</tspan><tspan font-size="11" dy="3.500">2</tspan><tspan dy="-3.500" dx="2.500" font-size="25">↑</tspan></text>
<path d="M838 993.500H858M838 998H858" stroke="#f6f6f6" stroke-width="1.300"/>
<text x="1020" y="1001">2H<tspan font-size="11" dy="3.500">2</tspan><tspan dy="-3.500">O+2Cl</tspan><tspan font-size="11" dy="-7">−</tspan><tspan dy="7" dx="23.500"> H</tspan><tspan font-size="11" dy="3.500">2</tspan><tspan dy="-3.500" dx="2.500" font-size="25">↑</tspan><tspan dx="1.500">+2OH</tspan><tspan font-size="11" dy="-7">−</tspan><tspan dy="7">+Cl</tspan><tspan font-size="11" dy="3.500">2</tspan><tspan dy="-3.500" dx="2.500" font-size="25">↑</tspan></text>
<path d="M1112 993.500H1132M1112 998H1132" stroke="#f6f6f6" stroke-width="1.300"/>
</g></svg>
<!-- ===== ROBOT + CARD ART ===== -->
<svg style="left:0;top:0" width="2373" height="1080" viewBox="0 0 2373 1080" font-family="Liberation Sans, sans-serif">
<defs>
<linearGradient id="rbBody" x1="0" y1="0" x2="1" y2="1"><stop offset="0" stop-color="#fbf6fb"/><stop offset=".6" stop-color="#efe3f1"/><stop offset="1" stop-color="#cdb9e4"/></linearGradient>
<linearGradient id="tkCard" x1="0" y1="0" x2="1" y2="0"><stop offset="0" stop-color="#2b2e35"/><stop offset=".25" stop-color="#20232a"/><stop offset=".5" stop-color="#282b32"/><stop offset=".75" stop-color="#1f2229"/><stop offset="1" stop-color="#2b2e35"/></linearGradient>
<linearGradient id="sbTube" x1="0" y1="0" x2="1" y2="0"><stop offset="0" stop-color="#3c3f46"/><stop offset=".5" stop-color="#54575d"/><stop offset="1" stop-color="#3c3f46"/></linearGradient>
<radialGradient id="bulbG" cx=".4" cy=".35" r=".7"><stop offset="0" stop-color="#8a8a8a"/><stop offset=".5" stop-color="#4c4c4c"/><stop offset="1" stop-color="#2c2c2c"/></radialGradient>
</defs>
<!-- robot -->
<g>
<path d="M1918 148V138" stroke="#7f9fb0" stroke-width="1.600"/><circle cx="1918" cy="135" r="3" fill="#6f98aa"/>
<ellipse cx="1895.500" cy="207" rx="5.800" ry="10" transform="rotate(32 1895.500 207)" fill="url(#rbBody)"/>
<ellipse cx="1942.500" cy="197.500" rx="9.500" ry="6.800" transform="rotate(-20 1942.500 197.500)" fill="url(#rbBody)"/>
<ellipse cx="1910.500" cy="221" rx="5" ry="6.200" fill="url(#rbBody)"/><ellipse cx="1923.500" cy="221.500" rx="5" ry="6" fill="url(#rbBody)"/>
<path d="M1904.500 200 Q1904.500 194 1911 194 H1924 Q1930.500 194 1930.500 200 V208 Q1930.500 219.500 1917.500 219.500 Q1904.500 219.500 1904.500 208 Z" fill="url(#rbBody)"/>
<path d="M1905 214 Q1911 218 1917 219.500 Q1924 218 1930 214" fill="none" stroke="#2a2a34" stroke-width="1"/>
<circle cx="1919" cy="205.500" r="4.200" fill="#8fe6ee"/><circle cx="1919" cy="205.500" r="2" fill="#39c4d8"/>
<ellipse cx="1889.500" cy="170.500" rx="5" ry="9.500" fill="#9cc3ee"/><ellipse cx="1945" cy="170.500" rx="4.500" ry="9" fill="#9cc3ee"/>
<rect x="1892" y="148" width="51.500" height="43" rx="20" fill="url(#rbBody)"/>
<rect x="1904" y="156.500" width="37" height="27.500" rx="10" fill="#0c111d"/>
<ellipse cx="1915.300" cy="170.500" rx="3.300" ry="5.400" fill="#3be8e8"/><ellipse cx="1932" cy="170.500" rx="3.300" ry="5.400" fill="#3be8e8"/>
<path d="M1920.300 176 Q1923.800 180.500 1927.300 176" fill="none" stroke="#3be8e8" stroke-width="1.500" stroke-linecap="round"/>
</g>

<!-- card 1: beaker -->
<g fill="none" stroke="#a2a4a8" stroke-width="1.100">
<path d="M2038 452 V556 Q2038 566.500 2050 566.500 H2118 Q2130.500 566.500 2130.500 556 V447" fill="#262930" stroke="none"/>
<ellipse cx="2084" cy="561" rx="44.500" ry="5.500" fill="#4a4d52" stroke="#8a8c90" stroke-width=".8"/>
<path d="M2038 456 V556 Q2038 566.500 2050 566.500 H2118 Q2130.500 566.500 2130.500 556 V446"/>
<path d="M2038 456 Q2037 450 2030 449.500 Q2023 449 2024 453" stroke="#bfc1c4"/>
<ellipse cx="2082.500" cy="442.500" rx="52" ry="3.200" stroke="#bfc1c4"/>
<path d="M2134.500 442.500 Q2133 446 2130.500 448" />
<path d="M2030.500 442.500 Q2026 445 2024 452"/>
<path d="M2089 473 V542 M2089 473H2098M2089 490.500H2098M2089 508H2098M2089 525H2098M2089 542H2098M2089 482H2094M2089 499H2094M2089 516.500H2094M2089 533.500H2094" stroke="#8e9094" stroke-width=".8"/>
</g>
<g font-size="5.500" fill="#85878b"><text x="2099.500" y="475">1000</text><text x="2100.500" y="492.500">800</text><text x="2100.500" y="510">600</text><text x="2100.500" y="527">400</text><text x="2100.500" y="544">200</text><text x="2051.500" y="543" font-size="5">NOBOOK</text></g>
<text x="2052" y="482" font-size="6.500" fill="#e4e4e4">1000mL</text>

<!-- card 2: tank + VIP -->
<rect x="2203" y="474" width="129" height="83" fill="url(#tkCard)"/>
<path d="M2203.700 474 V553 Q2203.700 556.500 2207 556.500 H2328 Q2331.300 556.500 2331.300 553 V474" fill="none" stroke="#8e9094" stroke-width="1"/>
<path d="M2203.700 474 V552M2331.300 474V552" stroke="#f0f0f0" stroke-width="1.500"/>
<path d="M2267 474V556M2270.300 474V556" stroke="#6a6d72" stroke-width=".8"/>
<rect x="2233.500" y="557" width="3.500" height="4.500" fill="#cdbb94"/><rect x="2297.500" y="557" width="3.500" height="4.500" fill="#cdbb94"/>
<rect x="2279" y="441" width="55" height="27.500" rx="13.750" fill="#f6c52e"/>
<text x="2306" y="462.500" font-size="21" font-style="italic" font-weight="bold" fill="#1c1a14" text-anchor="middle" letter-spacing="-.5">VIP</text>

<!-- card 3: salt bridge -->
<path d="M2050.700 828 V737.600 A28.800 28.800 0 0 1 2108.300 737.600 V828" fill="none" stroke="#b9bbbe" stroke-width="16.800"/>
<path d="M2050.700 828 V737.600 A28.800 28.800 0 0 1 2108.300 737.600 V828" fill="none" stroke="url(#sbTube)" stroke-width="14.800"/>
<path d="M2050.700 829 V737.600 A28.800 28.800 0 0 1 2108.300 737.600 V829" fill="none" stroke="#5a5d63" stroke-width="6" opacity=".6"/>
<rect x="2043.800" y="818" width="13.800" height="10.500" fill="#1c1d20"/><rect x="2101.400" y="818" width="13.800" height="10.500" fill="#1c1d20"/>
<rect x="2042" y="828.200" width="76" height="3" fill="#2e313a"/>

<!-- card 4: red wire -->
<path d="M2214 764.400H2320" stroke="#c8241c" stroke-width="4.600"/>
<path d="M2210 764.400 L2215 762.400 V766.400 Z M2324 764.400 L2319 762.400 V766.400 Z" fill="#cbb89a"/>
<!-- card 5: black wire -->
<path d="M2027 1011H2132" stroke="#17181b" stroke-width="3.400"/>
<path d="M2022 1011 L2028 1009.300 V1012.700 Z M2137 1011 L2131 1009.300 V1012.700 Z" fill="#cbb89a"/>
<!-- card 6: bulb -->
<rect x="2216" y="1031" width="102.500" height="20" rx="1.500" fill="#c9c9c9"/>
<rect x="2216" y="1031" width="102.500" height="6" fill="#dedede"/>
<rect x="2259" y="1018" width="16" height="18" rx="2" fill="#e2e2e2"/>
<circle cx="2266.800" cy="1009.500" r="11.200" fill="url(#bulbG)"/>
<ellipse cx="2232.500" cy="1032" rx="6.500" ry="3.600" fill="#2c2c2c"/><rect x="2229" y="1033" width="7" height="5" fill="#444"/>
<ellipse cx="2301.500" cy="1032" rx="6.500" ry="3.600" fill="#d4301e"/><rect x="2298" y="1033" width="7" height="5" fill="#b02818"/>
</svg>
<div class="t" style="left:2201px;top:1050px;font-size:21px;color:#f6f6f6">博科园@江昭希仪</div>
</body>
</html>
